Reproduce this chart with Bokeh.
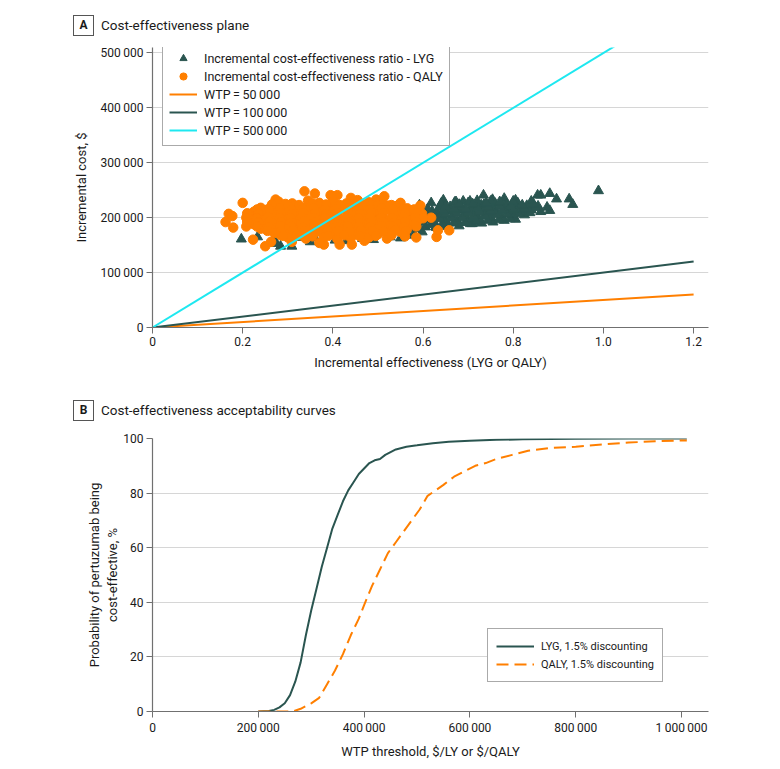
from bokeh.plotting import figure
from bokeh.layouts import column
from bokeh.models import Legend, LegendItem, FixedTicker, Range1d, Div
from bokeh.embed import file_html
from bokeh.resources import INLINE

# ---------------- Panel A: cost-effectiveness plane ----------------
# LYG (triangles): incremental effectiveness (LYG) and incremental cost ($ thousands)
lyg_effect = [
    0.989, 0.932, 0.924, 0.896, 0.881, 0.881, 0.861, 0.854, 0.840, 0.832,
    0.820, 0.805, 0.803, 0.780, 0.775, 0.754, 0.734, 0.729, 0.704, 0.689,
    0.673, 0.645, 0.618, 0.592, 0.861, 0.760, 0.800, 0.709, 0.678, 0.648,
    0.628, 0.598, 0.567,
    0.197, 0.233, 0.270, 0.284, 0.309, 0.273, 0.350, 0.324, 0.405, 0.466, 0.527, 0.314,
    0.58, 0.605, 0.63, 0.655, 0.68, 0.705, 0.73, 0.755, 0.78, 0.805,
    0.575, 0.60, 0.625, 0.65, 0.675, 0.70, 0.725, 0.75, 0.775, 0.80, 0.825,
    0.59, 0.615, 0.64, 0.665, 0.69, 0.715, 0.74, 0.765, 0.79, 0.815, 0.84,
    0.58, 0.605, 0.63, 0.655, 0.68, 0.705, 0.73, 0.755, 0.78, 0.805, 0.83, 0.855,
    0.61, 0.635, 0.66, 0.685, 0.71, 0.735, 0.76, 0.785, 0.81,
    0.64, 0.67, 0.70, 0.72, 0.75,
    0.35, 0.40, 0.45, 0.50, 0.55, 0.38, 0.43, 0.48, 0.53, 0.36, 0.43, 0.49, 0.55, 0.58,
    0.59, 0.617, 0.643, 0.668, 0.693, 0.718, 0.743, 0.768, 0.793,
    0.587, 0.612, 0.637, 0.662, 0.687, 0.712, 0.737, 0.762, 0.787, 0.812, 0.837,
    0.60, 0.625, 0.65, 0.675, 0.70, 0.725, 0.75, 0.775, 0.80, 0.825, 0.85, 0.875,
    0.62, 0.645, 0.67, 0.695, 0.72, 0.745, 0.77, 0.795, 0.82, 0.845,
    0.65, 0.68, 0.71, 0.74, 0.77, 0.80,
]
lyg_cost_k = [
    249, 224, 234, 234, 244, 213, 241, 241, 230, 215,
    213, 232, 220, 235, 223, 233, 241, 223, 230, 230,
    229, 232, 227, 223, 211, 208, 209, 189, 192, 184,
    183, 174, 168,
    161, 165, 160, 148, 148, 153, 156, 164, 159, 162, 165, 174,
    180, 183, 182, 186, 185, 189, 190, 192, 195, 197,
    190, 192, 191, 195, 194, 197, 198, 201, 200, 204, 205,
    199, 201, 203, 202, 205, 206, 209, 208, 212, 211, 214,
    207, 210, 209, 212, 214, 213, 216, 218, 217, 220, 222, 221,
    216, 218, 220, 219, 222, 224, 226, 225, 227,
    226, 228, 227, 231, 230,
    185, 195, 190, 200, 205, 175, 180, 210, 192, 163, 158, 160, 163, 170,
    186, 187, 189, 190, 191, 193, 195, 196, 198,
    195, 196, 198, 199, 200, 202, 203, 205, 206, 207, 209,
    203, 205, 206, 208, 209, 211, 212, 213, 215, 216, 218, 219,
    212, 213, 215, 216, 218, 219, 221, 222, 223, 225,
    222, 224, 225, 227, 229, 230,
]

# QALY (circles): incremental effectiveness (QALY) and incremental cost ($ thousands)
qaly_effect = [
    0.162, 0.169, 0.177, 0.179, 0.200, 0.208, 0.223, 0.250, 0.273, 0.337,
    0.360, 0.395, 0.410, 0.440, 0.496, 0.514, 0.415, 0.442, 0.380, 0.470,
    0.585, 0.630, 0.658, 0.633, 0.618, 0.598, 0.594, 0.550, 0.522, 0.284,
    0.263, 0.309, 0.329, 0.370,
    0.28, 0.31, 0.345, 0.37, 0.40, 0.43, 0.455, 0.48, 0.51,
    0.24, 0.265, 0.29, 0.315, 0.34, 0.365, 0.39, 0.415, 0.44, 0.465, 0.49, 0.515, 0.54, 0.565,
    0.225, 0.25, 0.275, 0.30, 0.325, 0.35, 0.375, 0.40, 0.425, 0.45, 0.475, 0.50, 0.525, 0.55, 0.575,
    0.215, 0.24, 0.262, 0.287, 0.31, 0.335, 0.36, 0.385, 0.41, 0.435, 0.46, 0.485, 0.51, 0.535, 0.56, 0.585,
    0.22, 0.245, 0.27, 0.295, 0.32, 0.345, 0.37, 0.395, 0.42, 0.445, 0.47, 0.495, 0.52, 0.545, 0.57, 0.59,
    0.225, 0.25, 0.275, 0.30, 0.325, 0.35, 0.375, 0.40, 0.425, 0.45, 0.475, 0.50, 0.525, 0.55, 0.575,
    0.24, 0.265, 0.29, 0.315, 0.34, 0.365, 0.39, 0.415, 0.44, 0.465, 0.49, 0.515, 0.54, 0.565,
    0.27, 0.30, 0.325, 0.35, 0.375, 0.40, 0.425, 0.45, 0.475, 0.50, 0.525, 0.55,
    0.30, 0.34, 0.38, 0.41, 0.44, 0.48, 0.52,
    0.265, 0.295, 0.325, 0.355, 0.385, 0.415, 0.445, 0.47, 0.50, 0.53,
    0.232, 0.258, 0.283, 0.308, 0.333, 0.358, 0.383, 0.408, 0.433, 0.458, 0.483, 0.508, 0.533, 0.558, 0.58,
    0.21, 0.235, 0.26, 0.285, 0.31, 0.335, 0.36, 0.385, 0.41, 0.435, 0.46, 0.485, 0.51, 0.535, 0.56, 0.585,
    0.208, 0.232, 0.257, 0.282, 0.307, 0.332, 0.357, 0.382, 0.407, 0.432, 0.457, 0.482, 0.507, 0.532, 0.557, 0.582, 0.60,
    0.21, 0.235, 0.26, 0.285, 0.31, 0.335, 0.36, 0.385, 0.41, 0.435, 0.46, 0.485, 0.51, 0.535, 0.56, 0.585,
    0.232, 0.258, 0.283, 0.308, 0.333, 0.358, 0.383, 0.408, 0.433, 0.458, 0.483, 0.508, 0.533, 0.558, 0.585,
    0.255, 0.285, 0.312, 0.338, 0.362, 0.388, 0.412, 0.438, 0.462, 0.488, 0.512, 0.538, 0.562,
    0.29, 0.32, 0.355, 0.39, 0.425, 0.46, 0.495, 0.53, 0.56,
]
qaly_cost_k = [
    192, 207, 203, 182, 227, 184, 160, 148, 233, 248,
    244, 241, 241, 236, 233, 239, 151, 151, 151, 158,
    164, 165, 177, 177, 200, 207, 222, 227, 222, 168,
    156, 156, 168, 154,
    229, 226, 231, 227, 230, 226, 232, 228, 225,
    218, 221, 219, 222, 218, 221, 217, 222, 219, 220, 223, 218, 221, 217,
    211, 214, 210, 213, 211, 214, 210, 212, 215, 210, 213, 211, 214, 210, 212,
    204, 202, 206, 203, 205, 202, 206, 204, 202, 205, 203, 206, 202, 204, 206, 203,
    196, 198, 195, 197, 194, 198, 196, 194, 197, 195, 198, 194, 196, 198, 195, 197,
    188, 186, 190, 187, 189, 186, 190, 188, 186, 189, 187, 190, 186, 188, 189,
    180, 178, 182, 179, 181, 178, 182, 180, 178, 181, 179, 182, 178, 180,
    172, 170, 174, 171, 173, 170, 174, 171, 173, 170, 172, 174,
    164, 162, 165, 161, 163, 164, 162,
    224, 225, 223, 226, 224, 223, 225, 224, 222, 223,
    215, 216, 217, 215, 216, 217, 215, 216, 217, 215, 216, 217, 215, 216, 215,
    208, 207, 209, 208, 207, 209, 208, 207, 209, 208, 207, 209, 208, 207, 209, 208,
    200, 199, 201, 200, 199, 201, 200, 199, 201, 200, 199, 201, 200, 199, 201, 200, 199,
    192, 191, 193, 192, 191, 193, 192, 191, 193, 192, 191, 193, 192, 191, 193, 192,
    184, 183, 185, 184, 183, 185, 184, 183, 185, 184, 183, 185, 184, 183, 184,
    176, 175, 177, 176, 175, 177, 176, 175, 177, 176, 175, 177, 176,
    167, 168, 166, 167, 168, 166, 167, 168, 166,
]

wtp_thresholds = [50000, 100000, 500000]
wtp_effect_span = [0, 1.2]
a_x_ticks = [0, 0.2, 0.4, 0.6, 0.8, 1.0, 1.2]
a_x_tick_labels = ["0", "0.2", "0.4", "0.6", "0.8", "1.0", "1.2"]
a_y_ticks = [0, 100000, 200000, 300000, 400000, 500000]

# ---------------- Panel B: acceptability curves ----------------
lyg_wtp = [200000, 220000, 230000, 240000, 250000, 260000, 270000, 280000, 290000,
           300000, 310000, 320000, 330000, 340000, 350000, 360000, 370000, 380000,
           390000, 400000, 410000, 420000, 430000, 440000, 450000, 460000, 480000,
           500000, 530000, 560000, 600000, 650000, 700000, 800000, 900000, 1010000]
lyg_prob = [0, 0.2, 0.6, 1.5, 3, 6, 11, 18, 28,
            37, 45, 53, 60, 67, 72, 77, 81, 84,
            87, 89, 91, 92, 92.5, 94, 95, 96, 97,
            97.5, 98.3, 98.8, 99.2, 99.5, 99.7, 99.9, 100, 100]

qaly_wtp = [200000, 240000, 265000, 280000, 300000, 315000, 330000, 345000, 360000,
            375000, 390000, 400000, 415000, 430000, 445000, 460000, 475000, 490000,
            505000, 520000, 535000, 550000, 570000, 590000, 610000, 630000, 650000,
            680000, 710000, 750000, 800000, 850000, 900000, 950000, 1010000]
qaly_prob = [0, 0, 0, 1, 3, 5, 10, 15, 21,
             28, 34, 39, 46, 52, 58, 62, 66, 70,
             74, 79, 81, 83, 86, 88, 90, 91, 92.5,
             94, 95.5, 96.5, 97, 97.8, 98.5, 99, 99.3]

b_x_ticks = [0, 200000, 400000, 600000, 800000, 1000000]
b_y_ticks = [0, 20, 40, 60, 80, 100]

# ---------------- styling ----------------
TEAL = "#2a5550"
ORANGE = "#ff7f00"
CYAN = "#1ee8f0"
FONT = "Roboto"
AXIS_C = "#707070"
TEXT_C = "#1a1a1a"
TS = "\u2009"
W = 764


def thousands(v):
    return f"{int(v):,}".replace(",", TS)


def style(p):
    p.outline_line_color = None
    p.xgrid.visible = False
    p.ygrid.grid_line_color = "#d6d6d6"
    p.ygrid.grid_line_width = 1
    for ax in (p.xaxis[0], p.yaxis[0]):
        ax.axis_line_color = AXIS_C
        ax.axis_line_width = 1.2
        ax.major_tick_line_color = AXIS_C
        ax.major_tick_out = 6
        ax.major_tick_in = 0
        ax.minor_tick_line_color = None
        ax.major_label_text_font = FONT
        ax.major_label_text_font_size = "12px"
        ax.major_label_text_color = TEXT_C
        ax.major_label_standoff = 3
        ax.axis_label_text_font = FONT
        ax.axis_label_text_font_size = "13px"
        ax.axis_label_text_font_style = "normal"
        ax.axis_label_text_color = TEXT_C


def header(letter, title, height, box_top):
    html = (
        f'<div style="position:relative;width:{W}px;height:{height}px;'
        f'font-family:Roboto,sans-serif;color:{TEXT_C};">'
        f'<div style="position:absolute;left:73px;top:{box_top}px;width:19px;height:19px;'
        f'border:1px solid #555555;box-sizing:content-box;font-size:12px;font-weight:bold;'
        f'line-height:19px;text-align:center;">{letter}</div>'
        f'<div style="position:absolute;left:101px;top:{box_top}px;height:21px;'
        f'font-size:13.5px;line-height:21px;white-space:nowrap;">{title}</div>'
        '</div>'
    )
    return Div(text=html, width=W, height=height, margin=0)


# ---------------- Panel A figure ----------------
ha = header("A", "Cost-effectiveness plane", 38, 15)

pa = figure(width=W, height=347, output_backend="svg", toolbar_location=None,
            x_range=Range1d(0, 1.233), y_range=Range1d(0, 510000),
            min_border_left=152, min_border_right=56, min_border_top=9, min_border_bottom=58,
            background_fill_color="white", border_fill_color="white")
style(pa)

r_lyg = pa.scatter(lyg_effect, [c * 1000 for c in lyg_cost_k],
                   marker="triangle", size=10, fill_color=TEAL, line_color=TEAL)
r_qaly = pa.scatter(qaly_effect, [c * 1000 for c in qaly_cost_k],
                    marker="circle", size=9.5, fill_color=ORANGE, line_color=ORANGE)
wtp_colors = [ORANGE, TEAL, CYAN]
wtp_renderers = []
for w, col in zip(wtp_thresholds, wtp_colors):
    wtp_renderers.append(pa.line(wtp_effect_span, [w * e for e in wtp_effect_span],
                                 line_color=col, line_width=2))

pa.xaxis.ticker = FixedTicker(ticks=a_x_ticks)
pa.xaxis.major_label_overrides = {t: s for t, s in zip(a_x_ticks, a_x_tick_labels)}
pa.yaxis.ticker = FixedTicker(ticks=a_y_ticks)
pa.yaxis.major_label_overrides = {t: thousands(t) for t in a_y_ticks}
pa.xaxis.axis_label = "Incremental effectiveness (LYG or QALY)"
pa.yaxis.axis_label = "Incremental cost, $"
pa.yaxis.axis_label_standoff = 9
pa.xaxis.axis_label_standoff = 6

items_a = [
    LegendItem(label="Incremental cost-effectiveness ratio - LYG", renderers=[r_lyg]),
    LegendItem(label="Incremental cost-effectiveness ratio - QALY", renderers=[r_qaly]),
] + [
    LegendItem(label=f"WTP{TS}={TS}{thousands(w)}", renderers=[r])
    for w, r in zip(wtp_thresholds, wtp_renderers)
]
leg_a = Legend(items=items_a, location=(10, 181), orientation="vertical",
               label_text_font=FONT, label_text_font_size="12.5px", label_text_color=TEXT_C,
               glyph_width=28, glyph_height=18, label_height=18, spacing=0,
               label_standoff=7, padding=6, margin=0,
               border_line_color="#555555", border_line_width=1,
               background_fill_color="white", background_fill_alpha=1)
pa.add_layout(leg_a)

# ---------------- Panel B figure ----------------
hb = header("B", "Cost-effectiveness acceptability curves", 45, 15)

pb = figure(width=W, height=331, output_backend="svg", toolbar_location=None,
            x_range=Range1d(0, 1051000), y_range=Range1d(0, 100),
            min_border_left=152, min_border_right=56, min_border_top=8, min_border_bottom=48,
            background_fill_color="white", border_fill_color="white")
style(pb)
r_b1 = pb.line(lyg_wtp, lyg_prob, line_color=TEAL, line_width=2)
r_b2 = pb.line(qaly_wtp, qaly_prob, line_color=ORANGE, line_width=2, line_dash="12 6")

pb.xaxis.ticker = FixedTicker(ticks=b_x_ticks)
pb.xaxis.major_label_overrides = {t: thousands(t) for t in b_x_ticks}
pb.yaxis.ticker = FixedTicker(ticks=b_y_ticks)
pb.xaxis.axis_label = "WTP threshold, $/LY or $/QALY"
pb.yaxis.axis_label = "Probability of pertuzumab being\ncost-effective, %"
pb.yaxis.axis_label_standoff = 0
pb.xaxis.axis_label_standoff = 6

leg_b = Legend(items=[LegendItem(label="LYG, 1.5% discounting", renderers=[r_b1]),
                      LegendItem(label="QALY, 1.5% discounting", renderers=[r_b2])],
               location=(335, 29), orientation="vertical",
               label_text_font=FONT, label_text_font_size="11px", label_text_color=TEXT_C,
               glyph_width=38, glyph_height=18, label_height=18, spacing=0,
               label_standoff=7, padding=8, margin=0,
               border_line_color="#555555", border_line_width=1,
               background_fill_color="white", background_fill_alpha=1)
pb.add_layout(leg_b)

layout = column(ha, pa, hb, pb, spacing=0)
open("out.html", "w").write(file_html(layout, INLINE))
